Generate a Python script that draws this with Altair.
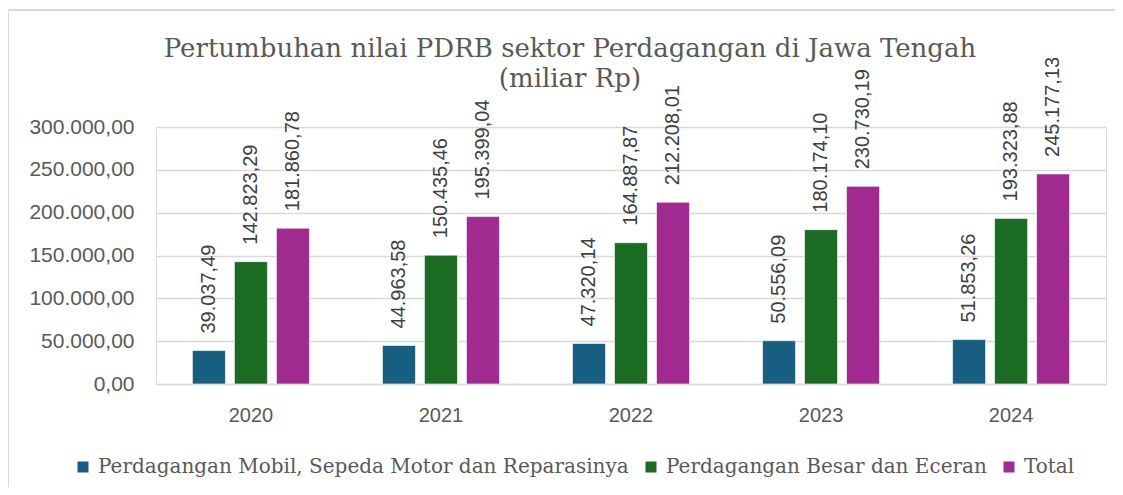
import altair as alt
import pandas as pd

years = ["2020", "2021", "2022", "2023", "2024"]
series = [
    "Perdagangan Mobil, Sepeda Motor dan Reparasinya",
    "Perdagangan Besar dan Eceran",
    "Total",
]
mobil = [39037.49, 44963.58, 47320.14, 50556.09, 51853.26]
besar = [142823.29, 150435.46, 164887.87, 180174.10, 193323.88]
total = [181860.78, 195399.04, 212208.01, 230730.19, 245177.13]
colors = ["#185E80", "#1C6B24", "#A02A90"]
title_lines = ["Pertumbuhan nilai PDRB sektor Perdagangan di Jawa Tengah", "(miliar Rp)"]

rows = []
for vals, s in zip([mobil, besar, total], series):
    for y, v in zip(years, vals):
        rows.append({"year": y, "series": s, "value": v})
df = pd.DataFrame(rows)

serif = "DejaVu Serif"
sans = "Liberation Sans"

base = alt.Chart(df).encode(
    x=alt.X(
        "year:N",
        title=None,
        scale=alt.Scale(paddingInner=0.337, paddingOuter=0.168),
        axis=alt.Axis(
            labelAngle=0, ticks=False, labelPadding=21, labelFontSize=20,
            labelFont=sans, labelColor="#595959", domainColor="#d9d9d9",
            domainWidth=1.5, grid=False,
        ),
    ),
    xOffset=alt.XOffset(
        "series:N", sort=series,
        scale=alt.Scale(paddingInner=0.214, paddingOuter=0.107),
    ),
)

bars = base.mark_bar(stroke="white", strokeWidth=0.6).encode(
    y=alt.Y(
        "value:Q",
        title=None,
        scale=alt.Scale(domain=[0, 300000], nice=False),
        axis=alt.Axis(
            values=[0, 50000, 100000, 150000, 200000, 250000, 300000],
            format=",.2f", ticks=False, domain=False, labelPadding=22,
            labelFontSize=21, labelFont=sans, labelColor="#595959",
            gridColor="#d9d9d9", gridWidth=1.5,
        ),
    ),
    color=alt.Color(
        "series:N",
        sort=series,
        scale=alt.Scale(domain=series, range=colors),
        legend=alt.Legend(
            title=None, orient="none", direction="horizontal",
            legendX=-83, legendY=330, symbolType="square", symbolSize=121,
            symbolStrokeWidth=0, labelFont=serif, labelFontSize=20,
            labelColor="#595959", labelOffset=5, columnPadding=12,
            labelLimit=800,
        ),
    ),
)

labels = base.mark_text(
    angle=270, align="left", baseline="middle", dx=17,
    font=sans, fontSize=20, color="#404040",
).encode(
    y="value:Q",
    text=alt.Text("value:Q", format=",.2f"),
)

one = alt.Chart(alt.Data(values=[{"a": 1}]))
border = one.mark_rule(color="#d9d9d9", strokeWidth=2)
border_v = border.encode(x=alt.value(-148), y=alt.value(-117), y2=alt.value(400))
border_h = border.encode(x=alt.value(-148), x2=alt.value(1100), y=alt.value(-117))

title = one.mark_text(
    font=serif, fontSize=26, color="#595959", align="center",
    baseline="alphabetic", lineHeight=30,
).encode(x=alt.value(414), y=alt.value(-70), text=alt.value(title_lines))

chart = (
    alt.layer(bars, labels, border_v, border_h, title)
    .properties(
        width=950,
        height=257,
        autosize=alt.AutoSizeParams(type="none"),
        padding={"left": 148, "top": 119, "right": 9, "bottom": 103},
    )
    .configure_view(stroke=None)
    .configure(
        locale={"number": {"decimal": ",", "thousands": ".", "grouping": [3], "currency": ["Rp", ""]}}
    )
)

chart.save("out.html", embed_options={"renderer": "svg", "actions": False})
